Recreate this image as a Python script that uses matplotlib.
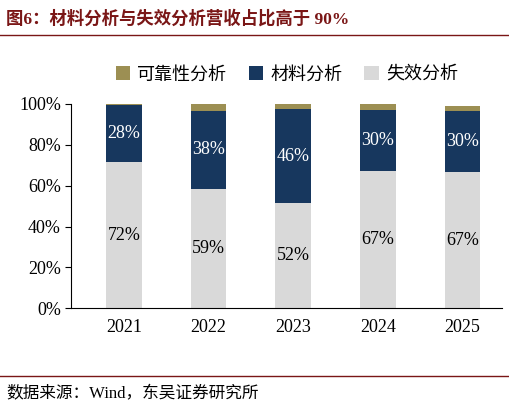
import matplotlib
matplotlib.use("Agg")
from matplotlib import pyplot as plt
import numpy as np

plt.rcParams['font.family'] = ['Liberation Serif', 'Noto Sans CJK SC']

years = ["2021", "2022", "2023", "2024", "2025"]
failure = [71.6, 58.5, 51.4, 67.0, 66.5]
material = [28.0, 38.0, 46.0, 30.0, 30.0]
reliability = [0.5, 3.5, 2.6, 3.0, 2.5]
fail_labels = ["72%", "59%", "52%", "67%", "67%"]
mat_labels = ["28%", "38%", "46%", "30%", "30%"]

fig = plt.figure(figsize=(5.1, 4.11), dpi=100)
ax = fig.add_axes([0.14, 0.25, 0.845, 0.497])

x = np.arange(len(years))
w = 0.42
b1 = ax.bar(x, failure, w, color="#d9d9d9", label="失效分析")
b2 = ax.bar(x, material, w, bottom=failure, color="#17375e", label="材料分析")
bottom3 = [a + b for a, b in zip(failure, material)]
b3 = ax.bar(x, reliability, w, bottom=bottom3, color="#9c8f53", label="可靠性分析")

for i in range(len(years)):
    ax.text(x[i], failure[i] / 2, fail_labels[i], ha="center", va="center", fontsize=13)
    ax.text(x[i], failure[i] + material[i] / 2, mat_labels[i], ha="center", va="center",
            fontsize=13, color="white")

ax.set_ylim(0, 100)
ax.set_xlim(-0.62, 4.47)
ax.set_yticks(range(0, 101, 20))
ax.set_yticklabels([f"{v}%" for v in range(0, 101, 20)], fontsize=13)
ax.set_xticks(x)
ax.set_xticklabels(years, fontsize=13)
ax.tick_params(axis="x", length=0, pad=8)
ax.tick_params(axis="y", direction="out", length=4)
ax.spines["top"].set_visible(False)
ax.spines["right"].set_visible(False)

ax.legend(handles=[b3, b2, b1], loc="lower center", bbox_to_anchor=(0.5, 1.02), ncol=3,
          frameon=False, fontsize=13, handlelength=0.8, handleheight=0.8, columnspacing=1.2,
          handletextpad=0.4)

fig.text(0.012, 0.955, "图6：材料分析与失效分析营收占比高于 90%", fontsize=12.5, fontweight="bold",
         color="#7a1616", va="center")
fig.add_artist(plt.Line2D([0.0, 1.0], [0.915, 0.915], color="#7a1616", lw=1))
fig.add_artist(plt.Line2D([0.0, 1.0], [0.085, 0.085], color="#7a1616", lw=1))
fig.text(0.012, 0.04, "数据来源：Wind，东吴证券研究所", fontsize=12, va="center")

fig.savefig("out.png", dpi=100)
